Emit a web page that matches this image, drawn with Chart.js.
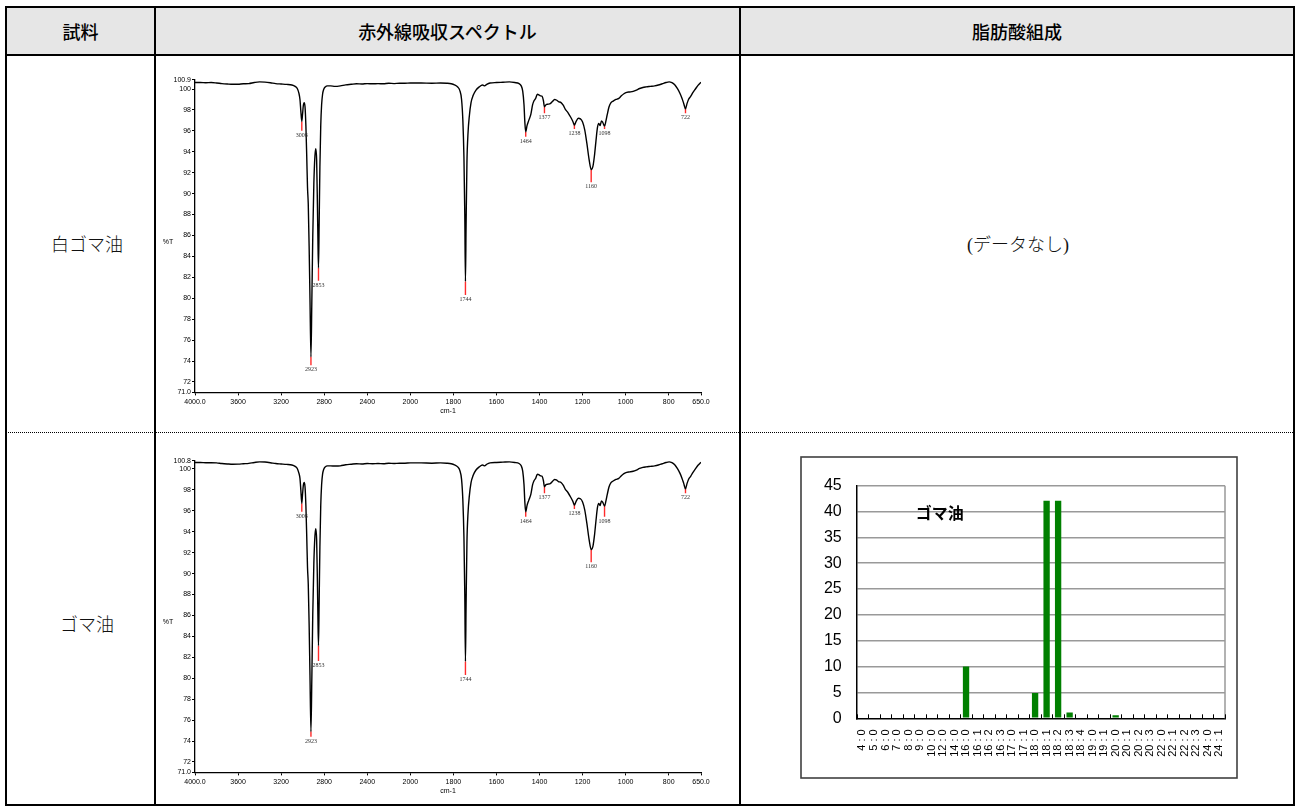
<!DOCTYPE html>
<html><head><meta charset="utf-8">
<script src="https://cdn.jsdelivr.net/npm/chart.js@4.4.1/dist/chart.umd.min.js"></script>
<style>
html,body{margin:0;padding:0;background:#fff;}
#page{position:relative;width:1297px;height:807px;overflow:hidden;background:#fff;}
.abs{position:absolute;}
.ln{position:absolute;background:#000;}
.hd{position:absolute;top:8px;height:46px;display:flex;align-items:center;justify-content:center;font-family:"Noto Sans CJK JP",sans-serif;font-size:18px;font-weight:500;color:#000;}
.rl{position:absolute;font-family:"Liberation Serif","Noto Sans CJK JP",serif;font-size:18px;font-weight:300;line-height:24px;color:#111;white-space:nowrap;transform:translate(-50%,-50%);}
canvas{position:absolute;}
</style></head>
<body><div id="page">
<div class="abs" style="left:5px;top:6px;width:1290px;height:50px;background:#e6e6e6"></div>
<div class="hd" style="left:7px;width:147px">試料</div>
<div class="hd" style="left:156px;width:583px">赤外線吸収スペクトル</div>
<div class="hd" style="left:741px;width:552px">脂肪酸組成</div>
<div class="rl" style="left:87px;top:245px">白ゴマ油</div>
<div class="rl" style="left:87px;top:625px">ゴマ油</div>
<div class="rl" style="left:1018px;top:245px">(データなし)</div>
<canvas id="ir1" width="583" height="374" style="left:156px;top:57px"></canvas>
<canvas id="ir2" width="583" height="374" style="left:156px;top:437px"></canvas>
<canvas id="fa" width="438" height="323" style="left:800px;top:456px"></canvas>
<div class="abs" style="left:5px;top:432px;width:1290px;height:0;border-top:1px dotted #000"></div>
<div class="ln" style="left:5px;top:6px;width:1290px;height:2px"></div>
<div class="ln" style="left:5px;top:54px;width:1290px;height:2px"></div>
<div class="ln" style="left:5px;top:804px;width:1290px;height:2px"></div>
<div class="ln" style="left:5px;top:6px;width:2px;height:800px"></div>
<div class="ln" style="left:154px;top:6px;width:2px;height:800px"></div>
<div class="ln" style="left:739px;top:6px;width:2px;height:800px"></div>
<div class="ln" style="left:1293px;top:6px;width:2px;height:800px"></div>
</div>
<script>
// ---------- IR spectrum data ----------
const X_MAX = 4000, X_MIN = 650, X_BREAK = 2000, X_SEG_HI = 400, X_SEG_LO = 200;
const xTickValues = [4000,3600,3200,2800,2400,2000,1800,1600,1400,1200,1000,800,650];
const xTickLabels = ["4000.0","3600","3200","2800","2400","2000","1800","1600","1400","1200","1000","800","650.0"];
const yTicks1 = [71,72,74,76,78,80,82,84,86,88,90,92,94,96,98,100,100.9];
const yTickLabels1 = ["71.0","72","74","76","78","80","82","84","86","88","90","92","94","96","98","100","100.9"];
const yTicks2 = [71,72,74,76,78,80,82,84,86,88,90,92,94,96,98,100,100.8];
const yTickLabels2 = ["71.0","72","74","76","78","80","82","84","86","88","90","92","94","96","98","100","100.8"];

const spec1 = [[4000,100.62],[3950,100.62],[3900,100.60],[3850,100.62],[3800,100.58],[3750,100.52],[3700,100.48],[3650,100.45],[3600,100.46],[3550,100.50],[3500,100.52],[3450,100.62],[3400,100.68],[3350,100.66],[3300,100.60],[3250,100.52],[3200,100.48],[3150,100.44],[3100,100.38],[3070,100.25],[3050,100.05],[3035,99.6],[3025,99.0],[3017,97.9],[3008,96.9],[3001,97.6],[2994,98.4],[2986,98.7],[2978,98.3],[2970,96.5],[2962,93.5],[2955,90.6],[2948,89.0],[2940,85.0],[2932,80.0],[2923,74.4],[2915,79.5],[2906,86.0],[2896,91.0],[2886,93.6],[2878,94.3],[2870,93.2],[2863,89.0],[2858,85.5],[2853,82.9],[2847,87.0],[2840,92.5],[2832,96.5],[2824,98.5],[2815,99.5],[2805,99.95],[2790,100.2],[2770,100.3],[2740,100.3],[2700,100.25],[2650,100.3],[2600,100.4],[2550,100.45],[2500,100.5],[2450,100.48],[2400,100.52],[2350,100.5],[2300,100.52],[2250,100.5],[2200,100.55],[2150,100.52],[2100,100.55],[2050,100.55],[2000,100.58],[1950,100.58],[1900,100.55],[1860,100.58],[1830,100.55],[1810,100.5],[1795,100.4],[1780,100.2],[1770,99.85],[1762,99.0],[1756,97.0],[1751,93.5],[1747,88.0],[1744,81.6],[1741,87.0],[1737,93.0],[1732,95.8],[1726,97.4],[1718,98.7],[1708,99.4],[1695,99.9],[1680,100.2],[1665,100.38],[1655,100.3],[1645,100.45],[1630,100.58],[1600,100.62],[1570,100.65],[1540,100.68],[1515,100.62],[1495,100.52],[1485,100.3],[1478,99.8],[1472,98.5],[1468,96.8],[1464,95.9],[1458,96.5],[1450,97.0],[1440,97.6],[1432,98.5],[1425,98.9],[1418,99.1],[1410,99.5],[1403,99.45],[1396,99.35],[1388,99.3],[1382,98.9],[1377,98.3],[1370,98.5],[1360,98.55],[1350,98.6],[1340,98.8],[1330,99.0],[1322,98.95],[1312,98.8],[1300,98.7],[1290,98.45],[1280,98.05],[1268,97.75],[1255,97.3],[1245,96.9],[1238,96.55],[1230,96.9],[1220,97.2],[1210,97.15],[1200,96.85],[1190,96.1],[1180,94.8],[1170,93.3],[1160,92.3],[1152,92.6],[1145,93.6],[1138,95.0],[1131,96.3],[1125,96.7],[1119,96.5],[1112,96.95],[1106,96.8],[1098,96.45],[1092,96.9],[1085,97.6],[1077,98.3],[1068,98.7],[1058,98.85],[1045,99.0],[1032,99.1],[1020,99.35],[1008,99.55],[995,99.68],[980,99.72],[965,99.78],[950,99.9],[935,100.05],[920,100.15],[905,100.2],[885,100.25],[865,100.3],[848,100.38],[830,100.5],[812,100.62],[798,100.68],[785,100.6],[772,100.4],[760,100.05],[748,99.6],[738,99.1],[730,98.6],[722,98.1],[715,98.6],[708,99.0],[698,99.3],[688,99.65],[676,100.0],[664,100.35],[650,100.65]];

const spec2 = [[4000,100.62],[3950,100.62],[3900,100.60],[3850,100.60],[3800,100.58],[3750,100.52],[3700,100.48],[3650,100.45],[3600,100.46],[3550,100.50],[3500,100.54],[3450,100.62],[3400,100.68],[3350,100.66],[3300,100.60],[3250,100.52],[3200,100.48],[3150,100.44],[3100,100.38],[3070,100.25],[3050,100.05],[3035,99.6],[3025,99.1],[3017,98.0],[3008,96.7],[3001,97.6],[2994,98.4],[2986,98.7],[2978,98.3],[2970,96.5],[2962,93.5],[2955,90.6],[2948,89.0],[2940,85.2],[2932,80.3],[2923,74.9],[2915,79.8],[2906,86.2],[2896,91.0],[2886,93.6],[2878,94.3],[2870,93.2],[2863,89.2],[2858,85.7],[2853,83.1],[2847,87.2],[2840,92.5],[2832,96.5],[2824,98.5],[2815,99.5],[2805,99.95],[2790,100.2],[2770,100.3],[2740,100.3],[2700,100.28],[2650,100.3],[2600,100.4],[2550,100.45],[2500,100.5],[2450,100.48],[2400,100.52],[2350,100.5],[2300,100.52],[2250,100.5],[2200,100.55],[2150,100.52],[2100,100.55],[2050,100.55],[2000,100.58],[1950,100.58],[1900,100.55],[1860,100.58],[1830,100.55],[1810,100.5],[1795,100.4],[1780,100.2],[1770,99.85],[1762,99.0],[1756,97.0],[1751,93.5],[1747,88.0],[1744,81.6],[1741,87.0],[1737,93.0],[1732,95.8],[1726,97.4],[1718,98.7],[1708,99.4],[1695,99.9],[1680,100.2],[1665,100.38],[1655,100.3],[1645,100.45],[1630,100.58],[1600,100.62],[1570,100.65],[1540,100.68],[1515,100.62],[1495,100.52],[1485,100.3],[1478,99.8],[1472,98.5],[1468,96.8],[1464,95.9],[1458,96.5],[1450,97.0],[1440,97.6],[1432,98.5],[1425,98.9],[1418,99.1],[1410,99.5],[1403,99.45],[1396,99.35],[1388,99.3],[1382,98.9],[1377,98.3],[1370,98.5],[1360,98.55],[1350,98.6],[1340,98.8],[1330,99.0],[1322,98.95],[1312,98.8],[1300,98.7],[1290,98.45],[1280,98.05],[1268,97.75],[1255,97.3],[1245,96.9],[1238,96.55],[1230,96.9],[1220,97.2],[1210,97.15],[1200,96.85],[1190,96.1],[1180,94.8],[1170,93.3],[1160,92.3],[1152,92.6],[1145,93.6],[1138,95.0],[1131,96.3],[1125,96.7],[1119,96.5],[1112,96.95],[1106,96.8],[1098,96.45],[1092,96.9],[1085,97.6],[1077,98.3],[1068,98.7],[1058,98.85],[1045,99.0],[1032,99.1],[1020,99.35],[1008,99.55],[995,99.68],[980,99.72],[965,99.78],[950,99.9],[935,100.05],[920,100.15],[905,100.2],[885,100.25],[865,100.3],[848,100.38],[830,100.5],[812,100.62],[798,100.68],[785,100.6],[772,100.4],[760,100.05],[748,99.6],[738,99.1],[730,98.6],[722,98.1],[715,98.6],[708,99.0],[698,99.3],[688,99.65],[676,100.0],[664,100.35],[650,100.65]];

const peakWn = [3008,2923,2853,1744,1464,1377,1238,1160,1098,722];
const peakLabels = ["3008","2923","2853","1744","1464","1377","1238","1160","1098","722"];
const peakT1 = [96.9,74.4,82.9,81.6,95.9,98.3,96.55,92.3,96.45,98.1];
const peakEnd1 = [96.0,73.6,81.67,80.3,95.44,97.68,96.18,91.08,96.18,97.68];
const peakT2 = [96.7,74.9,83.1,81.6,95.9,98.3,96.55,92.3,96.45,98.1];
const peakEnd2 = [95.9,74.4,81.65,80.3,95.44,97.68,96.18,91.08,95.44,97.68];

// ---------- fatty acid data ----------
const faCategories = ["4 : 0","5 : 0","6 : 0","7 : 0","8 : 0","9 : 0","10 : 0","12 : 0","14 : 0","16 : 0","16 : 1","16 : 2","16 : 3","17 : 0","17 : 1","18 : 0","18 : 1","18 : 2","18 : 3","18 : 4","19 : 0","19 : 1","20 : 0","20 : 1","20 : 2","20 : 3","22 : 0","22 : 1","22 : 2","22 : 3","24 : 0","24 : 1"];
const faValues = [0,0,0,0,0,0,0,0,0,10.0,0,0,0,0,0,4.9,42.1,42.1,1.1,0,0,0,0.6,0,0,0,0,0,0,0,0,0];
const faTitle = "ゴマ油";
const faYTicks = {min: 0, max: 45, step: 5};

// ---------- custom split-scale IR axis ----------
const BaseLinear = Chart.LinearScale || Chart.registry.getScale('linear');
class IRScale extends BaseLinear {
  _u(v) { return v >= X_BREAK ? (X_MAX - v) / X_SEG_HI : (X_MAX - X_BREAK) / X_SEG_HI + (X_BREAK - v) / X_SEG_LO; }
  _v(u) { const ub = (X_MAX - X_BREAK) / X_SEG_HI; return u <= ub ? X_MAX - u * X_SEG_HI : X_BREAK - (u - ub) * X_SEG_LO; }
  getPixelForValue(value) {
    if (value === null || value === undefined || isNaN(value)) return NaN;
    return this.getPixelForDecimal(this._u(value) / this._u(X_MIN));
  }
  getValueForPixel(pixel) { return this._v(this.getDecimalForPixel(pixel) * this._u(X_MIN)); }
}
IRScale.id = 'irscale';
IRScale.defaults = BaseLinear.defaults;
Chart.register(IRScale);

Chart.defaults.font.family = 'Liberation Sans';

function irAnnot(pE) {
  return {
    id: 'irAnnot',
    afterDatasetsDraw(chart) {
      const {ctx, chartArea, scales} = chart;
      ctx.save();
      ctx.font = '6px "Liberation Serif"';
      ctx.fillStyle = '#333';
      ctx.textAlign = 'center';
      ctx.textBaseline = 'middle';
      peakWn.forEach((w, i) => {
        ctx.fillText(peakLabels[i], scales.x.getPixelForValue(w), scales.y.getPixelForValue(pE[i]) + 4.5);
      });
      ctx.font = '7px "Liberation Sans"';
      ctx.fillStyle = '#000';
      ctx.fillText('%T', chartArea.left - 27, (chartArea.top + chartArea.bottom) / 2 + 6);
      ctx.restore();
    }
  };
}

function makeIR(id, curve, yMax, yTicks, yLabels, pT, pE, padTop) {
  const datasets = [{
    data: curve.map(p => ({x: p[0], y: p[1]})),
    borderColor: '#000', borderWidth: 1.4, pointRadius: 0,
    cubicInterpolationMode: 'monotone', fill: false
  }];
  peakWn.forEach((w, i) => datasets.push({
    data: [{x: w, y: pT[i]}, {x: w, y: pE[i]}],
    borderColor: '#ff2a2a', borderWidth: 1.4, pointRadius: 0, fill: false
  }));
  const axisFont = {family: 'Liberation Sans', size: 7};
  new Chart(document.getElementById(id), {
    type: 'line',
    data: {datasets},
    options: {
      responsive: false, animation: false, events: [],
      layout: {padding: {left: 0, right: 38, top: padTop, bottom: 0}},
      plugins: {legend: {display: false}, tooltip: {enabled: false}},
      scales: {
        x: {
          type: 'irscale', min: X_MIN, max: X_MAX,
          grid: {display: true, drawOnChartArea: false, drawTicks: true, tickLength: 3, color: '#000', lineWidth: 1},
          border: {display: true, color: '#000', width: 1.3},
          ticks: {autoSkip: false, maxRotation: 0, minRotation: 0, padding: 2, color: '#000', font: axisFont,
                  callback: v => xTickLabels[xTickValues.indexOf(v)]},
          title: {display: true, text: 'cm-1', color: '#000', font: axisFont, padding: {top: 0, bottom: 16}},
          afterBuildTicks: s => { s.ticks = xTickValues.map(v => ({value: v})); },
          afterFit: s => { s.height = 38.6; s.paddingLeft = 0; s.paddingRight = 0; }
        },
        y: {
          type: 'linear', min: 71, max: yMax,
          grid: {display: true, drawOnChartArea: false, drawTicks: true, tickLength: 3, color: '#000', lineWidth: 1},
          border: {display: true, color: '#000', width: 1.3},
          ticks: {padding: 1, color: '#000', font: axisFont, autoSkip: false,
                  callback: v => yLabels[yTicks.indexOf(v)]},
          afterBuildTicks: s => { s.ticks = yTicks.map(v => ({value: v})); },
          afterFit: s => { s.width = 39; s.paddingTop = 0; s.paddingBottom = 0; }
        }
      }
    },
    plugins: [irAnnot(pE)]
  });
}

makeIR('ir1', spec1, 100.9, yTicks1, yTickLabels1, peakT1, peakEnd1, 22.6);
makeIR('ir2', spec2, 100.8, yTicks2, yTickLabels2, peakT2, peakEnd2, 23.6);

// ---------- fatty acid bar chart ----------
const faDecor = {
  id: 'faDecor',
  afterDraw(chart) {
    const {ctx, chartArea, scales, width, height} = chart;
    ctx.save();
    ctx.strokeStyle = '#999'; ctx.lineWidth = 1.5;
    ctx.beginPath(); ctx.moveTo(chartArea.right, chartArea.top); ctx.lineTo(chartArea.right, chartArea.bottom); ctx.stroke();
    ctx.strokeStyle = '#000'; ctx.lineWidth = 1;
    for (let i = 0; i <= faCategories.length; i++) {
      const px = Math.round(scales.x.getPixelForValue(i - 0.5)) + 0.5;
      ctx.beginPath(); ctx.moveTo(px, chartArea.bottom); ctx.lineTo(px, chartArea.bottom - 4); ctx.stroke();
    }
    ctx.strokeStyle = '#404040'; ctx.lineWidth = 1.6;
    ctx.strokeRect(1, 1, width - 2, height - 2);
    ctx.fillStyle = '#000';
    ctx.font = 'bold 16px "Noto Sans CJK JP"';
    ctx.textAlign = 'center'; ctx.textBaseline = 'middle';
    ctx.fillText(faTitle, chartArea.left + 83, chartArea.top + 27);
    ctx.restore();
  }
};

new Chart(document.getElementById('fa'), {
  type: 'bar',
  data: {labels: faCategories, datasets: [{data: faValues, backgroundColor: '#008000', borderWidth: 0, barPercentage: 0.55, categoryPercentage: 1.0}]},
  options: {
    responsive: false, animation: false, events: [],
    layout: {padding: {left: 0, right: 13, top: 29.7, bottom: 0}},
    plugins: {legend: {display: false}, tooltip: {enabled: false}},
    scales: {
      x: {
        grid: {display: false},
        border: {display: true, color: '#000', width: 1.5},
        ticks: {autoSkip: false, maxRotation: 90, minRotation: 90, padding: 3, color: '#000', font: {family: 'Liberation Sans', size: 11}},
        afterFit: s => { s.height = 60.7; s.paddingLeft = 0; s.paddingRight = 0; }
      },
      y: {
        min: faYTicks.min, max: faYTicks.max,
        ticks: {stepSize: faYTicks.step, padding: 15, color: '#000', font: {family: 'Liberation Sans', size: 16}},
        grid: {drawTicks: false, lineWidth: 1.5, color: c => (c.tick && c.tick.value === 0) ? 'rgba(0,0,0,0)' : '#999'},
        border: {display: true, color: '#000', width: 1.5},
        afterFit: s => { s.width = 56.7; s.paddingTop = 0; s.paddingBottom = 0; }
      }
    }
  },
  plugins: [faDecor]
});
</script>
</body></html>
